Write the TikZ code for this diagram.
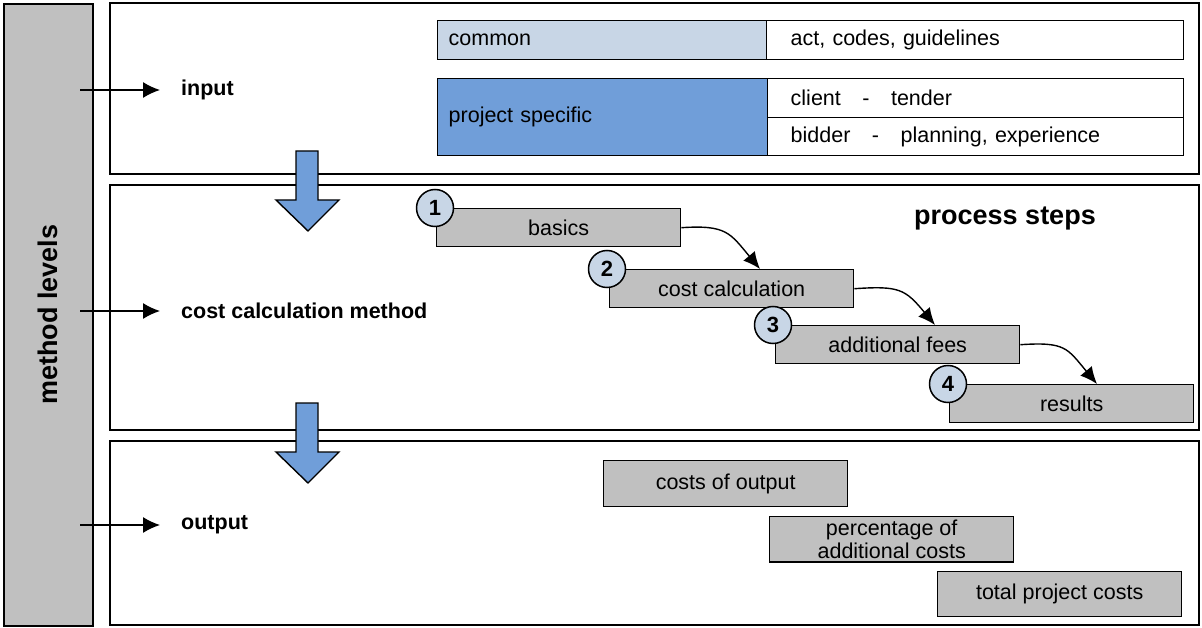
\documentclass[tikz,border=0pt]{standalone}
\usepackage{fontspec}
\setmainfont{Liberation Sans}
\usetikzlibrary{arrows.meta, positioning, calc}
\definecolor{lightblue}{RGB}{200,214,230}
\definecolor{midblue}{RGB}{112,158,217}
\definecolor{boxgray}{RGB}{192,192,192}
\tikzset{
         panel/.style={draw, line width=1.6pt},
         cell/.style={draw, line width=1.4pt, anchor=north west, align=left},
         stepbox/.style={draw, fill=boxgray, line width=1.4pt, anchor=north west, minimum width=244pt, minimum height=38pt},
         numcircle/.style={circle, draw, fill=lightblue, line width=1.5pt, minimum size=37pt, inner sep=0pt, font=\fontsize{22}{24}\selectfont\bfseries},
         levellabel/.style={anchor=west, inner xsep=0pt, font=\fontsize{21.5}{23}\selectfont\bfseries},
         levelarrow/.style={draw, line width=1.4pt, -{Latex[length=17pt,width=16pt]}, shorten >=21pt},
         flowarrow/.style={draw, line width=1.4pt, -{Latex[length=17pt,width=15pt]}},
         blockarrow/.style={draw, fill=midblue, line width=1.4pt}
      }

\begin{document}
\begin{tikzpicture}[x=1pt, y=-1pt, font=\fontsize{21.5}{23}\selectfont]
   \useasboundingbox (0,0) rectangle (1202,628);
   % method levels bar and the three panels
   \node[panel, fill=boxgray, anchor=north west, minimum width=89pt, minimum height=622pt] (levels) at (3,3) {};
   \node[rotate=90, font=\fontsize{27}{30}\selectfont\bfseries] (levelstitle) at (levels.center) {method levels};
   \draw[panel] (110,3) rectangle (1199,174);
   \draw[panel] (110,185) rectangle (1199,430);
   \draw[panel] (110,441) rectangle (1199,625);

   % level arrows
   \coordinate (inputstart) at (80,90);
   \coordinate (methodstart) at (80,311);
   \coordinate (outputstart) at (80,525);
   \node[levellabel] (input) at (181,90) {input};
   \node[levellabel] (method) at (181,311) {cost calculation method};
   \node[levellabel] (output) at (181,525) {output};
   \path[levelarrow] (inputstart) -- (input.west);
   \path[levelarrow] (methodstart) -- (method.west);
   \path[levelarrow] (outputstart) -- (output.west);

   % input table
   \node[cell, fill=lightblue, text width=307pt, inner xsep=11pt, minimum height=39pt] (common) at (437,20) {common};
   \node[cell, text width=369pt, inner xsep=24pt, minimum height=39pt] (act) at (766,20) {act, codes, guidelines};
   \node[cell, fill=midblue, text width=308pt, inner xsep=11pt, minimum height=77pt] (specific) at (437,78) {project specific};
   \node[cell, text width=370pt, inner xsep=23pt, minimum height=39pt] (client) at (767,78) {client \ \ - \ \ tender};
   \node[cell, text width=370pt, inner xsep=23pt, minimum height=38pt] (bidder) at (767,117) {bidder \ \ - \ \ planning, experience};

   % blue arrows between the panels
   \foreach \y in {151,403}
      \path[blockarrow] (296,\y) -- ++(22,0) -- ++(0,49) -- ++(21,0) -- (308,\y+80) -- (276,\y+49) -- (296,\y+49) -- cycle;

   % process steps
   \node[font=\fontsize{27}{30}\selectfont\bfseries] (steps) at (1005,218) {process steps};
   \node[stepbox] (basics) at (436,208) {basics};
   \node[stepbox] (cost) at (609,269) {cost calculation};
   \node[stepbox] (fees) at (775,325) {additional fees};
   \node[stepbox] (results) at (949,384) {results};
   \node[numcircle] (c1) at ([xshift=-1pt]basics.north west) {1};
   \node[numcircle] (c2) at ([xshift=-2pt]cost.north west) {2};
   \node[numcircle] (c3) at ([xshift=-2pt]fees.north west) {3};
   \node[numcircle] (c4) at ([xshift=-1pt]results.north west) {4};
   \path[flowarrow] (basics.east) .. controls +(45,-3) and +(-30,-36) .. ([xshift=151pt]cost.north west);
   \path[flowarrow] (cost.east) .. controls +(45,-3) and +(-30,-36) .. ([xshift=160pt]fees.north west);
   \path[flowarrow] (fees.east) .. controls +(45,-3) and +(-30,-36) .. ([xshift=148pt]results.north west);

   % output boxes
   \node[stepbox, minimum height=46pt] (costsout) at (603,460) {costs of output};
   \node[stepbox, minimum height=45pt, align=center] (percentage) at (769,516) {percentage of\\additional costs};
   \node[stepbox, minimum height=45pt] (total) at (937,571) {total project costs};
\end{tikzpicture}
\end{document}
